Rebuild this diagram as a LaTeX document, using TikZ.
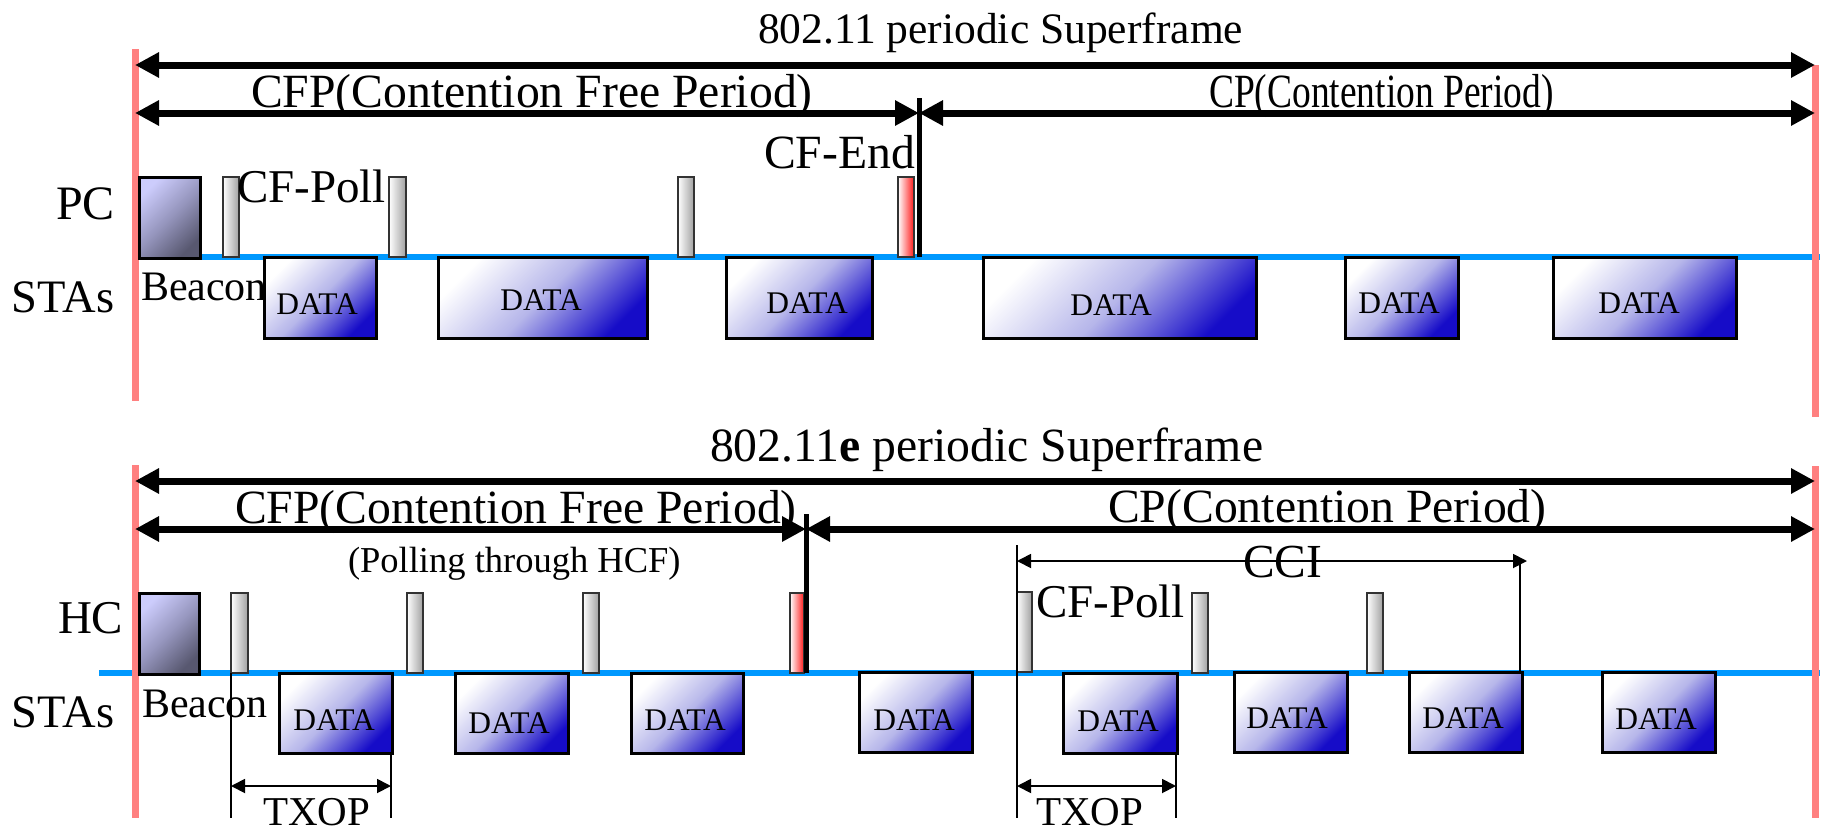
\documentclass[tikz,border=0pt]{standalone}
\usepackage{fontspec}
\usepackage{graphicx}
\setmainfont{Liberation Serif}
\usetikzlibrary{arrows.meta}
\definecolor{redln}{RGB}{255,128,128}
\definecolor{blueln}{RGB}{0,153,255}
\definecolor{bcnA}{RGB}{204,204,252}
\definecolor{bcnB}{RGB}{88,88,112}
\definecolor{bcnM}{RGB}{150,150,190}
\definecolor{dataB}{RGB}{22,12,200}
\definecolor{dataM}{RGB}{182,182,234}
\definecolor{pollB}{RGB}{160,160,160}
\definecolor{endB}{RGB}{255,25,25}
\newcommand\fsz[1]{\fontsize{#1pt}{#1pt}\selectfont}
\newcommand\bx[6]{\node[#6, minimum width={(#4-#2)*1pt}, minimum height={(#5-#3)*1pt}] (#1) at (#2,#3) {};}
\tikzset{
  boxbase/.style={anchor=north west, inner sep=0pt, outer sep=0pt},
  databox/.style={boxbase, draw=black, line width=3pt, top color=white, bottom color=dataB, middle color=dataM, shading angle=45},
  beaconbox/.style={boxbase, draw=black, line width=3pt, top color=bcnA, bottom color=bcnB, middle color=bcnM, shading angle=45},
  pollbox/.style={boxbase, draw=black!80, line width=2pt, left color=white, right color=pollB},
  endbox/.style={boxbase, draw=black!80, line width=2pt, left color=white, right color=endB},
  redline/.style={draw=redln, line width=7pt},
  blueline/.style={draw=blueln, line width=6pt},
  divline/.style={draw=black, line width=5pt},
  bigarr/.style={draw=black, line width=7pt, {Triangle[length=24pt,width=24pt]}-{Triangle[length=24pt,width=24pt]}},
  thinarr/.style={draw=black, line width=1.8pt, {Triangle[length=14pt,width=14pt]}-{Triangle[length=14pt,width=14pt]}},
  thinline/.style={draw=black, line width=1.8pt},
  lbl/.style={anchor=base west, inner sep=0pt, outer sep=0pt},
  datalbl/.style={anchor=base, inner sep=0pt, outer sep=0pt, font=\fsz{31.5}},
}
\begin{document}
\begin{tikzpicture}[x=1pt,y=-1pt]
\useasboundingbox (0,0) rectangle (1823,833);
% ---------------- coordinates ----------------
\coordinate (tBL) at (132,257); \coordinate (tBR) at (1820,257);
\coordinate (tRL1) at (135.5,49); \coordinate (tRL2) at (135.5,401);
\coordinate (tRR1) at (1815,65); \coordinate (tRR2) at (1815,417);
\coordinate (tS1) at (135,65); \coordinate (tS2) at (1815,65);
\coordinate (tC1) at (135,113); \coordinate (tCm) at (919,113); \coordinate (tC2) at (1815,113);
\coordinate (tD1) at (919,98); \coordinate (tD2) at (919,257);
\coordinate (bBL) at (99,673); \coordinate (bBR) at (1820,673);
\coordinate (bRL1) at (135.5,465); \coordinate (bRL2) at (135.5,818);
\coordinate (bRR1) at (1815,466); \coordinate (bRR2) at (1815,818);
\coordinate (bS1) at (135,481); \coordinate (bS2) at (1815,481);
\coordinate (bC1) at (135,529); \coordinate (bCm) at (806,529); \coordinate (bC2) at (1815,529);
\coordinate (bD1) at (806,514); \coordinate (bD2) at (806,673);
% ---------------- top: base lines ----------------
\path[blueline] (tBL) -- (tBR);
\path[redline] (tRL1) -- (tRL2);
\path[redline] (tRR1) -- (tRR2);
% ---------------- top boxes ----------------
\bx{tbeacon}{139}{177}{200}{258}{beaconbox}
\bx{tp1}{223}{177}{239}{257}{pollbox}
\bx{tp2}{389}{177}{406}{257}{pollbox}
\bx{tp3}{678}{177}{694}{257}{pollbox}
\bx{tend}{898}{177}{914}{257}{endbox}
\bx{td1}{264}{257}{376}{338}{databox}
\bx{td2}{438}{257}{647}{338}{databox}
\bx{td3}{726}{257}{872}{338}{databox}
\bx{td4}{983}{257}{1256}{338}{databox}
\bx{td5}{1345}{257}{1458}{338}{databox}
\bx{td6}{1553}{257}{1736}{338}{databox}
\node[datalbl] (tt1) at (317,314) {DATA};
\node[datalbl] (tt2) at (541,310) {DATA};
\node[datalbl] (tt3) at (807,313) {DATA};
\node[datalbl] (tt4) at (1111,315) {DATA};
\node[datalbl] (tt5) at (1399,313) {DATA};
\node[datalbl] (tt6) at (1639,313) {DATA};
% ---------------- top arrows ----------------
\path[bigarr] (tS1) -- (tS2);
\path[bigarr] (tC1) -- (tCm);
\path[bigarr] (tCm) -- (tC2);
\path[divline] (tD1) -- (tD2);
% ---------------- top labels ----------------
\node[lbl, font=\fsz{43.5}] (ttitle) at (758,43) {802.11 periodic Superframe};
\node[lbl, font=\fsz{47.7}] (tcfp) at (251,107) {CFP(Contention Free Period)};
\node[lbl, font=\fsz{47.7}] (tcp) at (1209,107) {\scalebox{0.786}[1]{CP(Contention Period)}};
\node[lbl, font=\fsz{47.7}] (tcfend) at (764,168) {CF-End};
\node[lbl, font=\fsz{47}] (tcfpoll) at (237,202) {CF-Poll};
\node[lbl, font=\fsz{48}] (tpc) at (56,219) {PC};
\node[lbl, font=\fsz{46.5}] (tstas) at (12,312) {STAs};
\node[lbl, font=\fsz{42}] (tbcn) at (141,300) {Beacon};
% ---------------- bottom: base lines ----------------
\path[blueline] (bBL) -- (bBR);
\path[redline] (bRL1) -- (bRL2);
\path[redline] (bRR1) -- (bRR2);
% ---------------- bottom boxes ----------------
\bx{bbeacon}{139}{593}{199}{674}{beaconbox}
\bx{bp1}{231}{593}{248}{673}{pollbox}
\bx{bp2}{407}{593}{423}{673}{pollbox}
\bx{bp3}{583}{593}{599}{673}{pollbox}
\bx{bend}{790}{593}{804}{673}{endbox}
\bx{bp4}{1017}{592}{1032}{672}{pollbox}
\bx{bp5}{1192}{593}{1208}{673}{pollbox}
\bx{bp6}{1367}{593}{1383}{673}{pollbox}
\bx{bd1}{279}{673}{392}{753}{databox}
\bx{bd2}{455}{673}{568}{753}{databox}
\bx{bd3}{631}{673}{743}{753}{databox}
\bx{bd4}{859}{672}{972}{752}{databox}
\bx{bd5}{1063}{673}{1177}{753}{databox}
\bx{bd6}{1234}{672}{1347}{752}{databox}
\bx{bd7}{1409}{672}{1522}{752}{databox}
\bx{bd8}{1602}{672}{1715}{752}{databox}
\node[datalbl] (bt1) at (334,730) {DATA};
\node[datalbl] (bt2) at (509,733) {DATA};
\node[datalbl] (bt3) at (685,730) {DATA};
\node[datalbl] (bt4) at (914,730) {DATA};
\node[datalbl] (bt5) at (1118,731) {DATA};
\node[datalbl] (bt6) at (1287,728) {DATA};
\node[datalbl] (bt7) at (1463,728) {DATA};
\node[datalbl] (bt8) at (1656,729) {DATA};
% ---------------- bottom arrows ----------------
\path[bigarr] (bS1) -- (bS2);
\path[bigarr] (bC1) -- (bCm);
\path[bigarr] (bCm) -- (bC2);
\path[divline] (bD1) -- (bD2);
% TXOP 1
\coordinate (x1a) at (231,673); \coordinate (x1b) at (231,818);
\coordinate (x1c) at (391,753); \coordinate (x1d) at (391,818);
\coordinate (x1l) at (231,786); \coordinate (x1r) at (391,786);
\path[thinline] (x1a) -- (x1b);
\path[thinline] (x1c) -- (x1d);
\path[thinarr] (x1l) -- (x1r);
% CCI and TXOP 2
\coordinate (ca) at (1017,545); \coordinate (cb) at (1017,818);
\coordinate (cc) at (1520,561); \coordinate (cd) at (1520,673);
\coordinate (cl) at (1017,561); \coordinate (cr) at (1527,561);
\path[thinline] (ca) -- (cb);
\path[thinline] (cc) -- (cd);
\path[thinarr] (cl) -- (cr);
\coordinate (x2c) at (1176,753); \coordinate (x2d) at (1176,818);
\coordinate (x2l) at (1017,786); \coordinate (x2r) at (1176,786);
\path[thinline] (x2c) -- (x2d);
\path[thinarr] (x2l) -- (x2r);
% ---------------- bottom labels ----------------
\node[lbl, font=\fsz{47.7}] (btitle) at (710,461) {802.11\textbf{e} periodic Superframe};
\node[lbl, font=\fsz{47.7}] (bcfp) at (235,523) {CFP(Contention Free Period)};
\node[lbl, font=\fsz{47.7}] (bcp) at (1108,522) {CP(Contention Period)};
\node[lbl, font=\fsz{36.5}] (bpoll) at (348,572) {(Polling through HCF)};
\node[lbl, font=\fsz{47}] (bhc) at (58,633) {HC};
\node[lbl, font=\fsz{46.5}] (bstas) at (12,727) {STAs};
\node[lbl, font=\fsz{42}] (bbcn) at (142,717) {Beacon};
\node[lbl, font=\fsz{47}] (bcfpoll) at (1036,617) {CF-Poll};
\node[lbl, font=\fsz{47.4}] (bcci) at (1243,577) {CCI};
\node[lbl, font=\fsz{41}, text depth=0pt] (btx1) at (263,825) {TXOP};
\node[lbl, font=\fsz{41}, text depth=0pt] (btx2) at (1036,825) {TXOP};
\end{tikzpicture}
\end{document}
